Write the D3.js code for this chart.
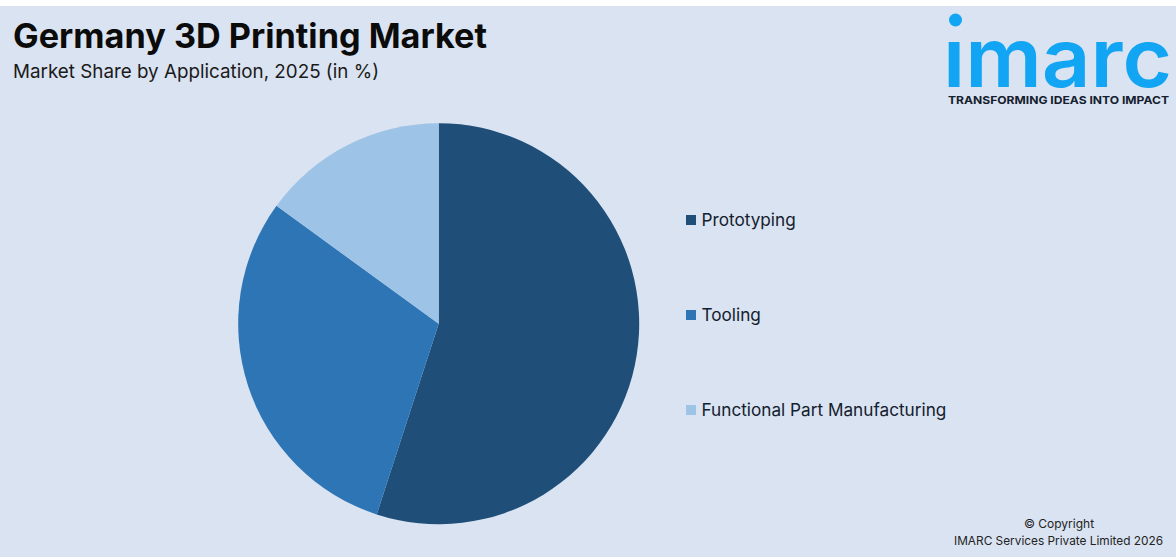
<!DOCTYPE html>
<html>
<head>
<meta charset="utf-8">
<script src="https://cdn.jsdelivr.net/npm/d3@7"></script>
<style>
  html, body { margin: 0; padding: 0; background: #fff; }
  svg { display: block; }
  text { font-family: Inter, "Noto Sans", sans-serif; }
</style>
</head>
<body>
<svg id="chart" width="1176" height="557"></svg>
<script>
const categories = ['Prototyping', 'Tooling', 'Functional Part Manufacturing'];
const shares = [55, 30, 15];
const colors = ['#1f4e79', '#2e75b6', '#9dc3e6'];

const svg = d3.select('#chart');

// panel, white strip left at the top
svg.append('rect')
    .attr('x', 0).attr('y', 6)
    .attr('width', 1176).attr('height', 551)
    .attr('fill', '#dae3f1');

// titles
svg.append('text')
    .attr('x', 13).attr('y', 48)
    .attr('font-size', 34).attr('font-weight', 700)
    .attr('textLength', 474).attr('lengthAdjust', 'spacingAndGlyphs')
    .attr('fill', '#0b0b0b')
    .text('Germany 3D Printing Market');

svg.append('text')
    .attr('x', 13).attr('y', 78)
    .attr('font-size', 19)
    .attr('textLength', 366).attr('lengthAdjust', 'spacingAndGlyphs')
    .attr('fill', '#1a1a1a')
    .text('Market Share by Application, 2025 (in %)');

// pie
const pie = d3.pie().sort(null).value(d => d)(shares);
const arc = d3.arc().innerRadius(0).outerRadius(200.5);

svg.append('g')
    .attr('transform', 'translate(438.7,323.7)')
    .selectAll('path')
    .data(pie)
    .join('path')
    .attr('d', arc)
    .attr('fill', (d, i) => colors[i]);

// legend
const legendY = d3.scalePoint().domain(categories).range([220, 410]);

const legend = svg.append('g')
    .selectAll('g')
    .data(categories)
    .join('g')
    .attr('transform', d => `translate(686,${legendY(d)})`);

legend.append('rect')
    .attr('y', -5).attr('width', 10).attr('height', 10)
    .attr('fill', (d, i) => colors[i]);

legend.append('text')
    .attr('x', 15.5).attr('y', 5.5)
    .attr('font-size', 17.2)
    .attr('fill', '#14202e')
    .text(d => d);

// logo
const logo = svg.append('g');

logo.append('circle')
    .attr('cx', 955.5).attr('cy', 20).attr('r', 6.5)
    .attr('fill', '#12a5f4');

logo.append('text')
    .attr('x', 943).attr('y', 86.5)
    .attr('font-size', 82).attr('font-weight', 600)
    .attr('textLength', 229).attr('lengthAdjust', 'spacingAndGlyphs')
    .attr('fill', '#12a5f4')
    .text('ımarc');

logo.append('text')
    .attr('x', 948).attr('y', 104)
    .attr('font-size', 11).attr('font-weight', 700)
    .attr('textLength', 221).attr('lengthAdjust', 'spacingAndGlyphs')
    .attr('fill', '#14202e')
    .text('TRANSFORMING IDEAS INTO IMPACT');

// copyright
svg.append('text')
    .attr('x', 1059).attr('y', 528)
    .attr('text-anchor', 'middle')
    .attr('font-size', 12)
    .attr('fill', '#222')
    .text('© Copyright');

svg.append('text')
    .attr('x', 954).attr('y', 545)
    .attr('font-size', 12)
    .attr('textLength', 209).attr('lengthAdjust', 'spacingAndGlyphs')
    .attr('fill', '#222')
    .text('IMARC Services Private Limited 2026');
</script>
</body>
</html>
